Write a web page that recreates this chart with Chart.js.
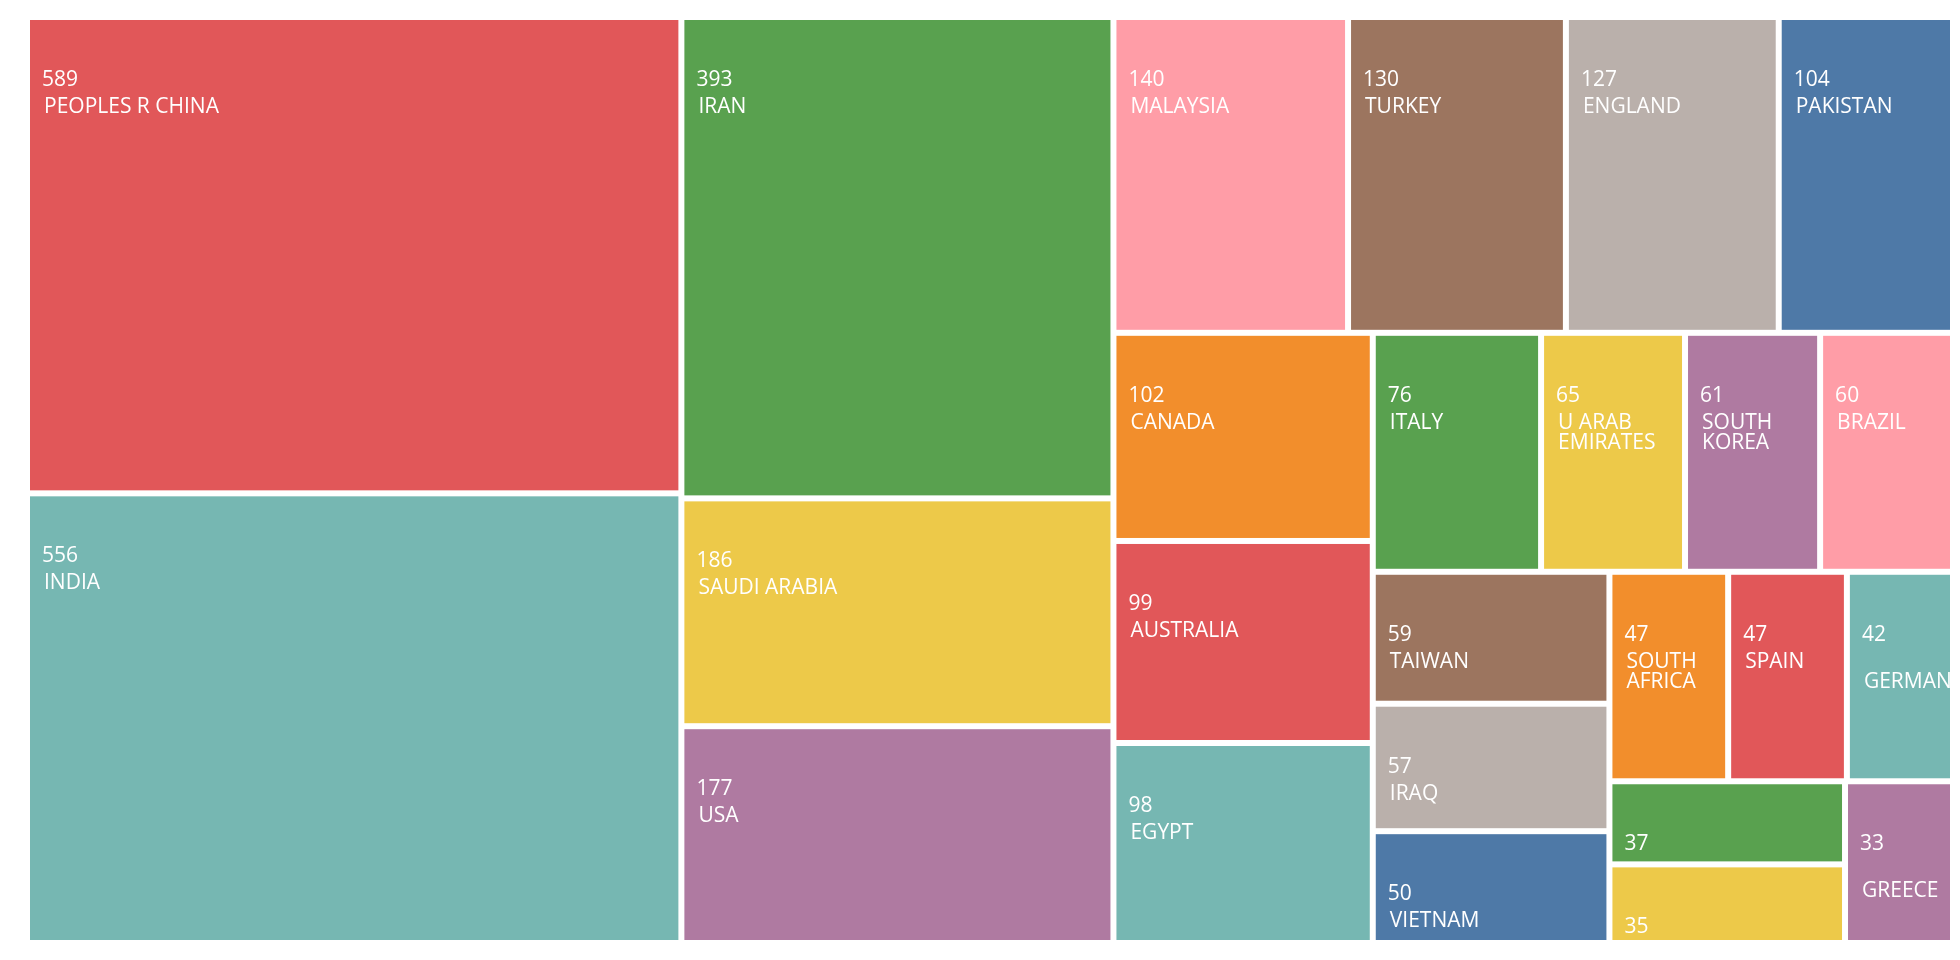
<!DOCTYPE html>
<html>
<head>
<meta charset="utf-8">
<script src="https://cdn.jsdelivr.net/npm/chart.js@4.4.1/dist/chart.umd.min.js"></script>
<style>
  html, body { margin: 0; padding: 0; background: #fff; }
</style>
</head>
<body>
<canvas id="myChart" width="1960" height="960"></canvas>
<script>
// --- Data ---
const countries = [
  "PEOPLES R CHINA", "INDIA", "IRAN", "SAUDI ARABIA", "USA",
  "MALAYSIA", "TURKEY", "ENGLAND", "PAKISTAN", "CANADA",
  "AUSTRALIA", "EGYPT", "ITALY", "U ARAB EMIRATES", "SOUTH KOREA",
  "BRAZIL", "TAIWAN", "IRAQ", "VIETNAM", "SOUTH AFRICA",
  "SPAIN", "GERMANY", "FRANCE", "JAPAN", "GREECE"
];
const counts = [
  589, 556, 393, 186, 177,
  140, 130, 127, 104, 102,
  99, 98, 76, 65, 61,
  60, 59, 57, 50, 47,
  47, 42, 37, 35, 33
];

// tableau-like palette, cycled
const palette = [
  "#e15759", "#76b7b2", "#59a14f", "#edc949", "#af7aa1",
  "#ff9da7", "#9c755f", "#bab0ab", "#4e79a7", "#f28e2c"
];

// --- Squarified layout (golden ratio, like d3) ---
function squarify(vals, x0, y0, x1, y1) {
  const ratio = (1 + Math.sqrt(5)) / 2;
  const out = [];
  const n = vals.length;
  let i0 = 0, i1 = 0;
  let value = vals.reduce((a, b) => a + b, 0);
  while (i0 < n) {
    const dx = x1 - x0, dy = y1 - y0;
    let sum = vals[i1++], minV = sum, maxV = sum;
    const alpha = Math.max(dy / dx, dx / dy) / (value * ratio);
    let beta = sum * sum * alpha;
    let minRatio = Math.max(maxV / beta, beta / minV);
    for (; i1 < n; ++i1) {
      const v = vals[i1];
      sum += v;
      if (v < minV) minV = v;
      if (v > maxV) maxV = v;
      beta = sum * sum * alpha;
      const r = Math.max(maxV / beta, beta / minV);
      if (r > minRatio) { sum -= v; break; }
      minRatio = r;
    }
    if (dx < dy) {
      const yEnd = y0 + dy * sum / value;
      let x = x0;
      for (let i = i0; i < i1; i++) {
        const w = dx * vals[i] / sum;
        out.push({ i, x0: x, y0: y0, x1: x + w, y1: yEnd });
        x += w;
      }
      y0 = yEnd;
    } else {
      const xEnd = x0 + dx * sum / value;
      let y = y0;
      for (let i = i0; i < i1; i++) {
        const h = dy * vals[i] / sum;
        out.push({ i, x0: x0, y0: y, x1: xEnd, y1: y + h });
        y += h;
      }
      x0 = xEnd;
    }
    value -= sum;
    i0 = i1;
  }
  return out;
}

// word wrap (measures with the leading space, like the original)
function wrapWords(ctx, text, maxW) {
  const words = text.split(" ");
  const lines = [];
  let line = "";
  words.forEach((word) => {
    const test = line + " " + word;
    if (ctx.measureText(test).width > maxW) {
      lines.push(line);
      line = word;
    } else {
      line = test;
    }
  });
  lines.push(line);
  return lines;
}

// --- Treemap drawing plugin ---
const treemapPlugin = {
  id: "treemap",
  afterDatasetsDraw(chart) {
    const ctx = chart.ctx;
    const xs = chart.scales.x, ys = chart.scales.y;
    const vals = chart.data.datasets[0].data;
    const names = chart.data.labels;
    const rects = squarify(vals, xs.left, ys.top, xs.right, ys.bottom);
    const gap = 3;

    rects.forEach((r) => {
      const x0 = r.x0 + gap, y0 = r.y0 + gap, x1 = r.x1 - gap, y1 = r.y1 - gap;
      const w = x1 - x0, h = y1 - y0;
      ctx.save();
      ctx.fillStyle = palette[r.i % palette.length];
      ctx.fillRect(x0, y0, w, h);

      ctx.beginPath();
      ctx.rect(x0, y0, w, h);
      ctx.clip();
      ctx.fillStyle = "#ffffff";
      ctx.font = '21px "Open Sans"';
      ctx.textBaseline = "alphabetic";
      ctx.textAlign = "left";

      let ty = y0 + 66;
      if (ty <= y1 - 2) ctx.fillText(String(vals[r.i]), x0 + 12, ty);
      ty += 27;
      wrapWords(ctx, names[r.i], w - 28).forEach((line) => {
        if (ty <= y1 - 2) ctx.fillText(line.trim(), x0 + 14, ty);
        ty += 20;
      });
      ctx.restore();
    });
  },
};

const ctx = document.getElementById("myChart").getContext("2d");
new Chart(ctx, {
  type: "bar",
  data: {
    labels: countries,
    datasets: [{ label: "Records", data: counts, hidden: true }],
  },
  options: {
    responsive: false,
    animation: false,
    events: [],
    layout: { padding: { left: 27, right: 7, top: 17, bottom: 17 } },
    scales: {
      x: { display: false },
      y: { display: false },
    },
    plugins: {
      legend: { display: false },
      tooltip: { enabled: false },
    },
  },
  plugins: [treemapPlugin],
});
</script>
</body>
</html>
